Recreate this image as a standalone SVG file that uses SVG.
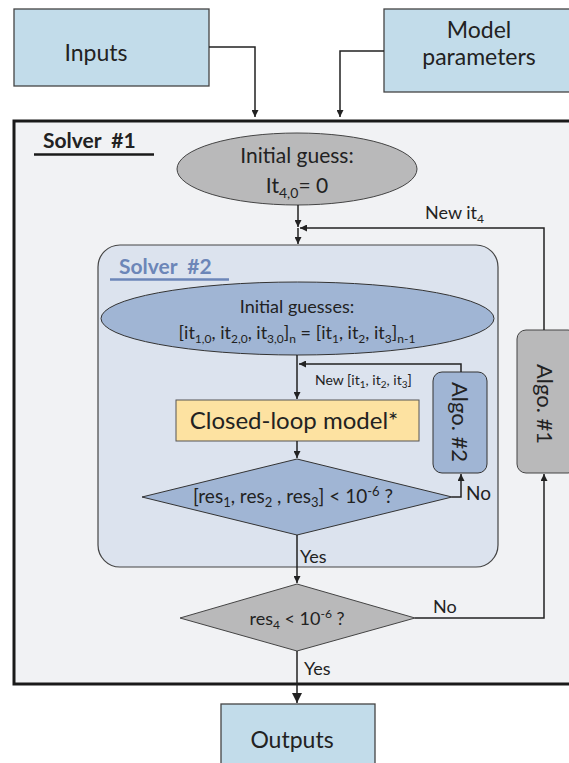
<svg xmlns="http://www.w3.org/2000/svg" width="569" height="763" viewBox="0 0 569 763">
<defs>
<marker id="arr" markerUnits="userSpaceOnUse" markerWidth="8" markerHeight="7" refX="7" refY="3.5" orient="auto">
<path d="M0,0 L7,3.5 L0,7 z" fill="#222"/>
</marker>
<marker id="arrBig" markerUnits="userSpaceOnUse" markerWidth="11" markerHeight="10" refX="10" refY="5" orient="auto">
<path d="M0,0 L10,5 L0,10 z" fill="#222"/>
</marker>
<style>
.t{font-family:Lato,"Open Sans","Liberation Sans",sans-serif;fill:#222;}
.c{fill:none;stroke:#222;stroke-width:1.5;}
.io{fill:#c2dcea;stroke:#444;stroke-width:1.3;}
.gray{fill:#b9b9ba;stroke:#444;stroke-width:1;}
.blue{fill:#a0b5d4;stroke:#333;stroke-width:1;}
</style>
</defs>
<g id="solver1">
<rect x="14" y="121" width="570" height="563" fill="#f1f2f4" stroke="#1a1a1a" stroke-width="3"/>
<text class="t" x="43" y="148" font-size="21" font-weight="bold" xml:space="preserve">Solver  #1</text>
<line x1="34" y1="154.5" x2="154" y2="154.5" stroke="#1a1a1a" stroke-width="2.5"/>
</g>
<g id="solver2">
<rect x="98" y="245" width="400" height="322" rx="22" fill="#dce3ee" stroke="#444" stroke-width="1.2"/>
<text class="t" x="119" y="274" font-size="21" font-weight="bold" style="fill:#6c86b8" xml:space="preserve">Solver  #2</text>
<line x1="110" y1="279.5" x2="229" y2="279.5" stroke="#6c86b8" stroke-width="2.5"/>
</g>
<g id="inputs">
<rect class="io" x="14" y="9" width="195" height="77"/>
<text class="t" x="96" y="61" font-size="23" text-anchor="middle">Inputs</text>
</g>
<g id="model-parameters">
<rect class="io" x="384" y="9" width="200" height="83"/>
<text class="t" x="479" y="38" font-size="23" text-anchor="middle">Model</text>
<text class="t" x="479" y="65" font-size="23" text-anchor="middle">parameters</text>
</g>
<g id="initial-guess">
<ellipse class="gray" cx="297" cy="169" rx="120" ry="36"/>
<text class="t" x="297" y="163" font-size="21" text-anchor="middle">Initial guess:</text>
<text class="t" x="297" y="193" font-size="21" text-anchor="middle">It<tspan font-size="14" dy="5">4,0</tspan><tspan dy="-5">= 0</tspan></text>
</g>
<g id="initial-guesses">
<ellipse class="blue" cx="297.5" cy="318.5" rx="196.5" ry="36.5"/>
<text class="t" x="297" y="313" font-size="18" text-anchor="middle">Initial guesses:</text>
<text class="t" x="297" y="339" font-size="18" text-anchor="middle">[it<tspan font-size="12" dy="4">1,0</tspan><tspan dy="-4">, it</tspan><tspan font-size="12" dy="4">2,0</tspan><tspan dy="-4">, it</tspan><tspan font-size="12" dy="4">3,0</tspan><tspan dy="-4">]</tspan><tspan font-size="12" dy="4">n</tspan><tspan dy="-4"> = [it</tspan><tspan font-size="12" dy="4">1</tspan><tspan dy="-4">, it</tspan><tspan font-size="12" dy="4">2</tspan><tspan dy="-4">, it</tspan><tspan font-size="12" dy="4">3</tspan><tspan dy="-4">]</tspan><tspan font-size="12" dy="4">n-1</tspan></text>
</g>
<g id="closed-loop-model">
<rect x="176" y="400" width="243" height="41" fill="#fde2a1" stroke="#555" stroke-width="1"/>
<text class="t" x="294" y="429" font-size="24" text-anchor="middle">Closed-loop model*</text>
</g>
<g id="check-res123">
<polygon class="blue" points="297,459 452,497 297,535 142,497"/>
<text class="t" x="293" y="503" font-size="19" text-anchor="middle">[res<tspan font-size="13" dy="4">1</tspan><tspan dy="-4">, res</tspan><tspan font-size="13" dy="4">2</tspan><tspan dy="-4"> , res</tspan><tspan font-size="13" dy="4">3</tspan><tspan dy="-4">] &lt; 10</tspan><tspan font-size="13" dy="-7">-6</tspan><tspan dy="7"> ?</tspan></text>
</g>
<g id="algo2">
<rect class="blue" x="433" y="372" width="54" height="101" rx="9"/>
<text class="t" x="0" y="0" font-size="22" text-anchor="middle" transform="translate(452,422) rotate(90)">Algo. #2</text>
</g>
<g id="algo1">
<rect class="gray" x="517" y="330" width="60" height="143" rx="9"/>
<text class="t" x="0" y="0" font-size="22" text-anchor="middle" transform="translate(537,404) rotate(90)">Algo. #1</text>
</g>
<g id="check-res4">
<polygon class="gray" points="297,584 415,618 297,651 180,618"/>
<text class="t" x="297" y="625" font-size="18" text-anchor="middle">res<tspan font-size="12" dy="4">4</tspan><tspan dy="-4"> &lt; 10</tspan><tspan font-size="12" dy="-7">-6</tspan><tspan dy="7"> ?</tspan></text>
</g>
<g id="outputs">
<rect class="io" x="221" y="704" width="154" height="70"/>
<text class="t" x="292" y="748" font-size="23" text-anchor="middle">Outputs</text>
</g>
<g id="connectors">
<path class="c" d="M209 47 H255 V117" marker-end="url(#arr)"/>
<path class="c" d="M384 51 H340 V117" marker-end="url(#arr)"/>
<path class="c" d="M298 205 V227" marker-end="url(#arr)"/>
<path class="c" d="M298 228 V244" marker-end="url(#arr)"/>
<path class="c" d="M544 330 V228 H300" marker-end="url(#arr)"/>
<text class="t" x="425" y="219" font-size="18">New it<tspan font-size="12" dy="4">4</tspan></text>
<path class="c" d="M297 355 V399" marker-end="url(#arr)"/>
<path class="c" d="M461 372 V364 H299" marker-end="url(#arr)"/>
<text class="t" x="315" y="385" font-size="14">New [it<tspan font-size="10" dy="3">1</tspan><tspan dy="-3">, it</tspan><tspan font-size="10" dy="3">2</tspan><tspan dy="-3">, it</tspan><tspan font-size="10" dy="3">3</tspan><tspan dy="-3">]</tspan></text>
<path class="c" d="M297 441 V458" marker-end="url(#arr)"/>
<path class="c" d="M452 497 H461 V474" marker-end="url(#arr)"/>
<text class="t" x="466" y="500" font-size="19">No</text>
<path class="c" d="M297 535 V583" marker-end="url(#arr)"/>
<text class="t" x="300" y="563" font-size="18">Yes</text>
<path class="c" d="M415 618 H544 V474" marker-end="url(#arr)"/>
<text class="t" x="433" y="613" font-size="18">No</text>
<path class="c" d="M297 651 V703" stroke-width="2" marker-end="url(#arrBig)"/>
<text class="t" x="304" y="675" font-size="18">Yes</text>
</g>
</svg>
